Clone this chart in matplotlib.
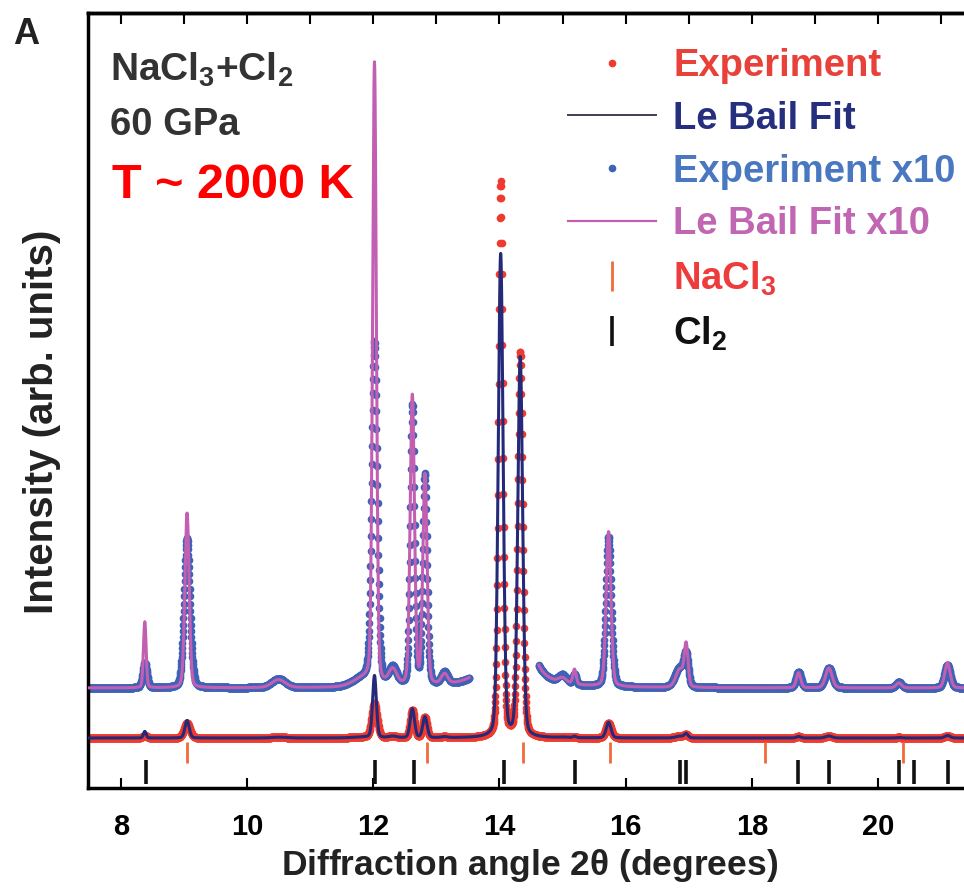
import numpy as np
import matplotlib
matplotlib.use("Agg")
import matplotlib.pyplot as plt
from matplotlib.lines import Line2D

plt.rcParams["font.family"] = ["Liberation Sans", "DejaVu Sans"]
plt.rcParams["font.weight"] = "bold"
plt.rcParams["mathtext.fontset"] = "custom"
plt.rcParams["mathtext.rm"] = "Liberation Sans:bold"
plt.rcParams["mathtext.it"] = "Liberation Sans:bold"
plt.rcParams["mathtext.bf"] = "Liberation Sans:bold"
plt.rcParams["mathtext.default"] = "rm"

# ---- reflections (2theta, degrees) ----
nacl3_ticks = [9.05, 12.85, 14.37, 15.75, 18.21, 20.39]
cl2_ticks = [8.40, 12.03, 12.64, 14.07, 15.19, 16.86, 16.95, 18.73, 19.22,
             20.33, 20.57, 21.11]

# ---- peak table of the pattern (intensity in arb. units) ----
peak_pos = [8.38, 9.05, 10.50, 11.85, 12.02, 12.31, 12.62, 12.82, 13.13,
            14.02, 14.33, 15.00, 15.19, 15.73, 16.86, 16.96, 18.74, 19.22,
            20.33, 21.10]
fit_height = [6.6, 17.5, 0.8, 0.8, 62.0, 1.6, 29.0, 21.0, 1.0,
              483.0, 380.0, 0.5, 1.5, 15.5, 1.8, 4.0, 1.5, 2.0,
              0.5, 2.5]
fit_fwhm = [0.05, 0.08, 0.25, 0.40, 0.07, 0.15, 0.08, 0.08, 0.12,
            0.09, 0.09, 0.15, 0.06, 0.09, 0.15, 0.07, 0.08, 0.12,
            0.10, 0.10]
obs_height = [2.5, 15.0, 0.9, 0.9, 34.0, 1.8, 28.0, 21.0, 1.2,
              555.0, 385.0, 0.8, 1.0, 15.0, 2.0, 2.8, 1.6, 2.0,
              0.6, 2.3]
obs_fwhm = [0.08, 0.11, 0.25, 0.40, 0.10, 0.15, 0.08, 0.08, 0.12,
            0.08, 0.09, 0.15, 0.06, 0.10, 0.18, 0.08, 0.09, 0.13,
            0.10, 0.11]

base_lower = 50.0      # offset of the raw pattern
base_upper = 100.0     # offset of the x10 pattern
scale_upper = 10.0
gap_upper = (13.52, 14.62)   # x10 pattern omitted around the strongest lines

step = 0.004
x_start, x_end = 7.48, 21.6


def pseudo_voigt(x, pos, height, fwhm, eta=0.2):
    y = np.zeros_like(x)
    for p, h, w in zip(pos, height, fwhm):
        d = 2.0 * (x - p) / w
        y += h * (eta / (1.0 + d ** 2) + (1 - eta) * np.exp(-np.log(2) * d ** 2))
    return y


tt = np.arange(x_start, x_end, step)
fit = pseudo_voigt(tt, peak_pos, fit_height, fit_fwhm)
obs = pseudo_voigt(tt, peak_pos, obs_height, obs_fwhm)

lower_fit = base_lower + fit
lower_obs = base_lower + obs
keep = ~((tt > gap_upper[0]) & (tt < gap_upper[1]))
upper_fit = np.where(keep, base_upper + scale_upper * fit, np.nan)
upper_obs = np.where(keep, base_upper + scale_upper * obs, np.nan)

# ---- colours ----
c_obs = "#ee3b2e"
c_fit = "#25297a"
c_obs10 = "#3e62b6"
c_fit10 = "#c25fb2"
c_nacl3 = "#f26a3a"
c_cl2 = "#111111"

W, H = 964, 894
fig = plt.figure(figsize=(W / 100, H / 100), dpi=100)
ax_left, ax_right, ax_top, ax_bottom = 88, 979, 13, 788
ax = fig.add_axes([ax_left / W, (H - ax_bottom) / H,
                   (ax_right - ax_left) / W, (ax_bottom - ax_top) / H])

# x10 pattern
ax.plot(tt, upper_obs, ls="none", marker="o", ms=5.5, color=c_obs10,
        markeredgewidth=0, zorder=2)
ax.plot(tt, upper_fit, color=c_fit10, lw=2.2, zorder=3)
# raw pattern
ax.plot(tt, lower_obs, ls="none", marker="o", ms=5.5, color=c_obs,
        markeredgewidth=0, zorder=2)
ax.plot(tt, lower_fit, color=c_fit, lw=2.2, zorder=3)

# reflection markers
ax.vlines(nacl3_ticks, 25, 46, color=c_nacl3, lw=2.0, zorder=4)
ax.vlines(cl2_ticks, 4, 28, color=c_cl2, lw=2.6, zorder=4)

ax.set_xlim(x_start, x_start + (ax_right - ax_left) / 63.1)
ax.set_ylim(0, ax_bottom - ax_top)
ax.set_yticks([])
ax.set_xticks([8, 10, 12, 14, 16, 18, 20])
ax.tick_params(axis="x", direction="in", length=7, width=1.5, labelsize=21,
               pad=18)
for lab in ax.get_xticklabels():
    lab.set_fontweight("bold")
top = ax.secondary_xaxis("top")
top.set_xticks(np.arange(8, 22, 1))
top.tick_params(axis="x", direction="in", length=8, width=1.5,
                labeltop=False)
for s in ["left", "bottom", "top"]:
    ax.spines[s].set_linewidth(2.5)
top.spines["top"].set_linewidth(2.5)
ax.spines["right"].set_visible(False)

ax.set_xlabel(r"Diffraction angle 2$\theta$ (degrees)", fontsize=25.5,
              fontweight="bold", color="#222222")
ax.xaxis.set_label_coords((530 - ax_left) / (ax_right - ax_left),
                          (ax_bottom - 866) / (ax_bottom - ax_top))
ax.xaxis.label.set_va("center")
ax.set_ylabel("Intensity (arb. units)", fontsize=29, fontweight="bold",
              color="#222222")
ax.yaxis.set_label_coords((42 - ax_left) / (ax_right - ax_left),
                          (ax_bottom - 422) / (ax_bottom - ax_top))
ax.yaxis.label.set_va("center")

# panel annotations
fig.text(13 / W, 1 - 34 / H, "A", fontsize=26, fontweight="bold",
         color="#222222", va="center", ha="left")
fig.text(110 / W, 1 - 70 / H, r"NaCl$_3$+Cl$_2$", fontsize=28,
         fontweight="bold", color="#333333", va="center", ha="left")
fig.text(110 / W, 1 - 125 / H, "60 GPa", fontsize=27.5, fontweight="bold",
         color="#333333", va="center", ha="left")
fig.text(112 / W, 1 - 185 / H, "T ~ 2000 K", fontsize=35, fontweight="bold",
         color="#ff0000", va="center", ha="left")

handles = [
    Line2D([], [], ls="none", marker="o", ms=4.5, color=c_obs),
    Line2D([], [], color="#3d3d5c", lw=1.4),
    Line2D([], [], ls="none", marker="o", ms=4.5, color=c_obs10),
    Line2D([], [], color=c_fit10, lw=1.6),
    Line2D([], [], ls="none", marker="|", ms=22, mew=2.0, color=c_nacl3),
    Line2D([], [], ls="none", marker="|", ms=22, mew=2.6, color=c_cl2),
]
labels = ["Experiment", "Le Bail Fit", "Experiment x10", "Le Bail Fit x10",
          r"NaCl$_3$", r"Cl$_2$"]
leg = ax.legend(handles, labels, loc="upper left",
                bbox_to_anchor=((568 - ax_left) / (ax_right - ax_left),
                                (ax_bottom - 48) / (ax_bottom - ax_top)),
                frameon=False, fontsize=27.5, handlelength=2.3,
                handletextpad=0.45, labelspacing=0.44, borderpad=0,
                borderaxespad=0,
                labelcolor=["#e8413a", "#262f7e", "#4a78c0", "#c066b2",
                            "#ee3b3b", "#111111"])
for t in leg.get_texts():
    t.set_fontweight("bold")

fig.savefig("out.png", dpi=100)
